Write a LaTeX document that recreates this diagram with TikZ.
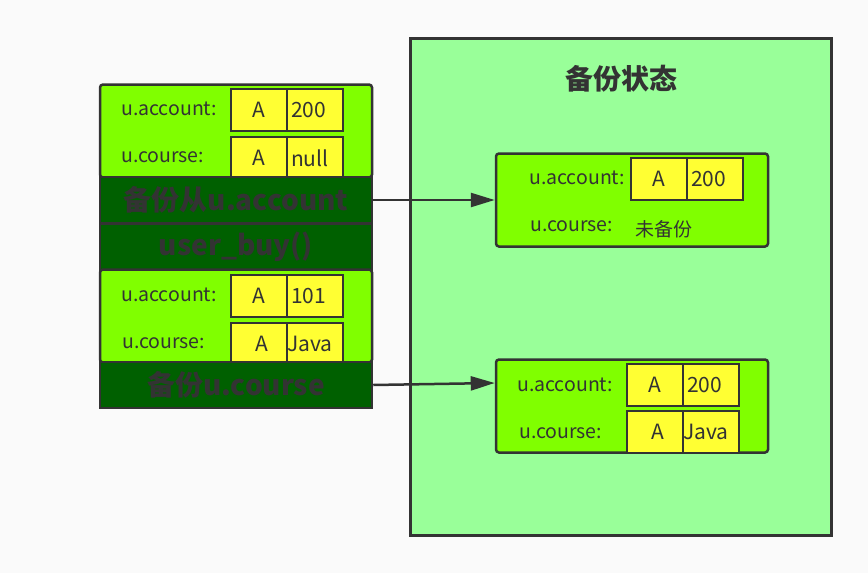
\documentclass[tikz,border=0pt]{standalone}
\usepackage{fontspec}
\setmainfont{Noto Sans CJK SC}
\usetikzlibrary{arrows.meta}
\definecolor{bgpaper}{RGB}{250,250,250}
\definecolor{darkline}{RGB}{51,51,51}
\definecolor{stategreen}{RGB}{153,255,153}
\definecolor{boxgreen}{RGB}{128,255,0}
\definecolor{bargreen}{RGB}{0,96,0}
\definecolor{cellyellow}{RGB}{255,255,51}

\tikzset{
  varbox/.style={draw=darkline, fill=boxgreen, line width=2.5pt, rounded corners=3pt, inner sep=0pt, minimum width=272pt, minimum height=93pt},
  stepbar/.style={draw=darkline, fill=bargreen, line width=2.5pt, inner sep=0pt, minimum width=272pt, minimum height=46pt, text=darkline, font=\fontsize{28}{28}\selectfont\bfseries},
  cell/.style={draw=darkline, fill=cellyellow, line width=2.5pt, inner sep=0pt, minimum width=56pt, minimum height=42pt, text=darkline, font=\fontsize{21}{21}\selectfont},
  cellval/.style={cell, text width=48pt, align=left},
  varlabel/.style={anchor=west, inner sep=0pt, text=darkline, font=\fontsize{19.5}{19.5}\selectfont},
  link/.style={draw=darkline, line width=2.5pt, -{Triangle[length=24pt,width=14pt]}}
}

\begin{document}
\begin{tikzpicture}[x=1pt,y=-1pt]
\useasboundingbox[fill=bgpaper] (0,0) rectangle (868,573);

%%%%%%%%%%%%%%%%%%%%%%%%%%%%%%%%%%%%%%%%%%%%%%%%%%%%%%%%%%%%%%%%%%%% backup state
\node[draw=darkline, fill=stategreen, line width=3pt, inner sep=0pt, minimum width=421pt, minimum height=497pt] (state) at (621,287) {};
\node[text=darkline, font=\fontsize{28}{28}\selectfont\bfseries] (statetitle) at (621,79) {备份状态};

%%%%%%%%%%%%%%%%%%%%%%%%%%%%%%%%%%%%%%%%%%%%%%%%%%%%%%%%%%%%%%%%%%%% left: before
\node[varbox] (before) at (236,131) {};
\node[varlabel] (beforeacc) at (121,109) {u.account:};
\node[varlabel] (beforecou) at (121,157) {u.course:};
\node[cell] (beforeaccA) at (259,110) {A};
\node[cellval] (beforeaccV) at (315,110) {200};
\node[cell] (beforecouA) at (259,158) {A};
\node[cellval] (beforecouV) at (315,158) {null};

\node[stepbar] (backupacc) at (236,200) {备份从u.account};
\node[stepbar] (userbuy) at (236,247) {user\_buy()};

%%%%%%%%%%%%%%%%%%%%%%%%%%%%%%%%%%%%%%%%%%%%%%%%%%%%%%%%%%%%%%%%%%%% left: after
\node[varbox] (after) at (236,316) {};
\node[varlabel] (afteracc) at (121,295) {u.account:};
\node[varlabel] (aftercou) at (122,343) {u.course:};
\node[cell] (afteraccA) at (259,296) {A};
\node[cellval] (afteraccV) at (315,296) {101};
\node[cell] (aftercouA) at (259,344) {\hspace{6pt}A};
\node[cellval] (aftercouV) at (315,344) {\hspace{-4pt}Java};

\node[stepbar] (backupcou) at (236,385) {备份u.course};

%%%%%%%%%%%%%%%%%%%%%%%%%%%%%%%%%%%%%%%%%%%%%%%%%%%%%%%%%%%%%%%%%%%% right: saved copies
\node[varbox] (saveone) at (632,200) {};
\node[varlabel] (saveoneacc) at (529,178) {u.account:};
\node[varlabel] (saveonecou) at (530,226) {u.course:};
\node[cell] (saveoneaccA) at (659,179) {A};
\node[cellval] (saveoneaccV) at (715,179) {200};
\node[anchor=west, inner sep=0pt, text=darkline, font=\fontsize{19}{19}\selectfont] (saveonecouV) at (635,229) {未备份};

\node[varbox] (savetwo) at (632,406) {};
\node[varlabel] (savetwoacc) at (517,385) {u.account:};
\node[varlabel] (savetwocou) at (519,433) {u.course:};
\node[cell] (savetwoaccA) at (655,385) {A};
\node[cellval] (savetwoaccV) at (711,385) {200};
\node[cell] (savetwocouA) at (655,432) {\hspace{6pt}A};
\node[cellval] (savetwocouV) at (711,432) {\hspace{-4pt}Java};

%%%%%%%%%%%%%%%%%%%%%%%%%%%%%%%%%%%%%%%%%%%%%%%%%%%%%%%%%%%%%%%%%%%% links
\draw[link] (backupacc.east) -- (saveone.west);
\draw[link] (backupcou.east) -- ([yshift=2pt]backupcou.east -| savetwo.west);
\end{tikzpicture}
\end{document}
